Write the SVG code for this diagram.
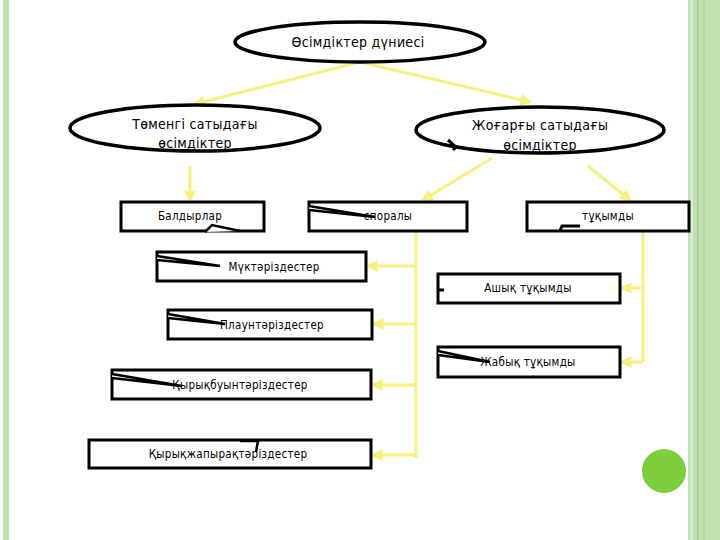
<svg xmlns="http://www.w3.org/2000/svg" width="720" height="540" viewBox="0 0 720 540">
<defs>
<style>
.n{fill:#fff;stroke:#000;stroke-width:3}
.e{fill:#fff;stroke:#000;stroke-width:3.5}
.t{font-family:"DejaVu Sans Condensed","DejaVu Sans",sans-serif;font-size:11.5px;fill:#000;text-anchor:middle;letter-spacing:0.3px}
.te{font-family:"DejaVu Sans Condensed","DejaVu Sans",sans-serif;font-size:14px;fill:#000;text-anchor:middle;letter-spacing:0.3px}
.c{fill:none;stroke:#f6f17e;stroke-width:3}
.g{stroke:#000;stroke-width:3;fill:none}
</style>
<marker id="a" viewBox="0 0 10 10" refX="8" refY="5" markerWidth="4" markerHeight="4" orient="auto"><path d="M0,0L10,5L0,10z" fill="#f6f17e"/></marker>
</defs>
<rect width="720" height="540" fill="#fff"/>
<rect x="3" y="0" width="6" height="540" fill="#c3e0b3"/>
<rect x="688" y="0" width="32" height="540" fill="#c3e0b3"/>
<rect x="690" y="0" width="3" height="540" fill="#d8ecd0"/>
<rect x="697" y="0" width="1.5" height="540" fill="#9fcf8c"/>
<rect x="703" y="0" width="2" height="540" fill="#b0d8a0"/>
<circle cx="664" cy="471" r="22" fill="#7ccf3a"/>
<g id="connectors">
<path class="c" d="M360,62L195,104" marker-end="url(#a)"/>
<path class="c" d="M360,62L530,102" marker-end="url(#a)"/>
<path class="c" d="M190,166V200" marker-end="url(#a)"/>
<path class="c" d="M492,158L423,200" marker-end="url(#a)"/>
<path class="c" d="M588,166L630,200" marker-end="url(#a)"/>
<path class="c" d="M416,232V458"/>
<path class="c" d="M416,266H368" marker-end="url(#a)"/>
<path class="c" d="M416,324H374" marker-end="url(#a)"/>
<path class="c" d="M416,385H373" marker-end="url(#a)"/>
<path class="c" d="M416,455H373" marker-end="url(#a)"/>
<path class="c" d="M643,232V362"/>
<path class="c" d="M643,288H622" marker-end="url(#a)"/>
<path class="c" d="M643,362H622" marker-end="url(#a)"/>
</g>
<g id="root"><ellipse class="e" cx="360" cy="42" rx="125" ry="20"/><text class="te" x="358" y="47">Өсімдіктер дүниесі</text></g>
<g id="low"><ellipse class="e" cx="195" cy="128" rx="125" ry="23"/><text class="te" x="195" y="129">Төменгі  сатыдағы</text><text class="te" x="195" y="148">өсімдіктер</text></g>
<g id="high"><ellipse class="e" cx="540" cy="130" rx="124" ry="23"/><path d="M448,140L456,147L453,150" class="g"/><text class="te" x="540" y="130">Жоғарғы сатыдағы</text><text class="te" x="540" y="150">өсімдіктер</text></g>
<g id="b1"><rect class="n" x="121" y="202" width="143" height="29"/><path d="M205,232L212,225L240,231" stroke="#000" stroke-width="2.5" fill="#fff"/><text class="t" x="190" y="220">Балдырлар</text></g>
<g id="b2"><rect class="n" x="309" y="202" width="158" height="29"/><path d="M309,206L375,217L309,210" stroke="#000" stroke-width="2.5" fill="#fff"/><text class="t" x="388" y="220">споралы</text></g>
<g id="b3"><rect class="n" x="527" y="202" width="162" height="29"/><path d="M560,231L562,226L580,226" class="g" stroke-width="2"/><text class="t" x="608" y="220">тұқымды</text></g>
<g id="m1"><rect class="n" x="157" y="252" width="209" height="29"/><path d="M157,256L220,266L157,260" stroke="#000" stroke-width="2.5" fill="#fff"/><text class="t" x="274" y="271">Мүктәріздестер</text></g>
<g id="m2"><rect class="n" x="168" y="310" width="204" height="29"/><path d="M168,314L225,324L168,318" stroke="#000" stroke-width="2.5" fill="#fff"/><text class="t" x="272" y="329">Плаунтәріздестер</text></g>
<g id="m3"><rect class="n" x="112" y="370" width="259" height="29"/><path d="M112,374L182,386L112,378" stroke="#000" stroke-width="2.5" fill="#fff"/><text class="t" x="240" y="389">Қырықбуынтәріздестер</text></g>
<g id="m4"><rect class="n" x="89" y="440" width="282" height="28"/><path d="M240,441L258,441L256,452" stroke="#000" stroke-width="2.5" fill="#fff"/><text class="t" x="228" y="458">Қырықжапырақтәріздестер</text></g>
<g id="s1"><rect class="n" x="438" y="274" width="182" height="29"/><path d="M438,290L444,290" class="g"/><text class="t" x="528" y="292">Ашық тұқымды</text></g>
<g id="s2"><rect class="n" x="438" y="347" width="182" height="30"/><path d="M438,351L490,362L438,355" stroke="#000" stroke-width="2.5" fill="#fff"/><text class="t" x="528" y="366">Жабық тұқымды</text></g>
</svg>
